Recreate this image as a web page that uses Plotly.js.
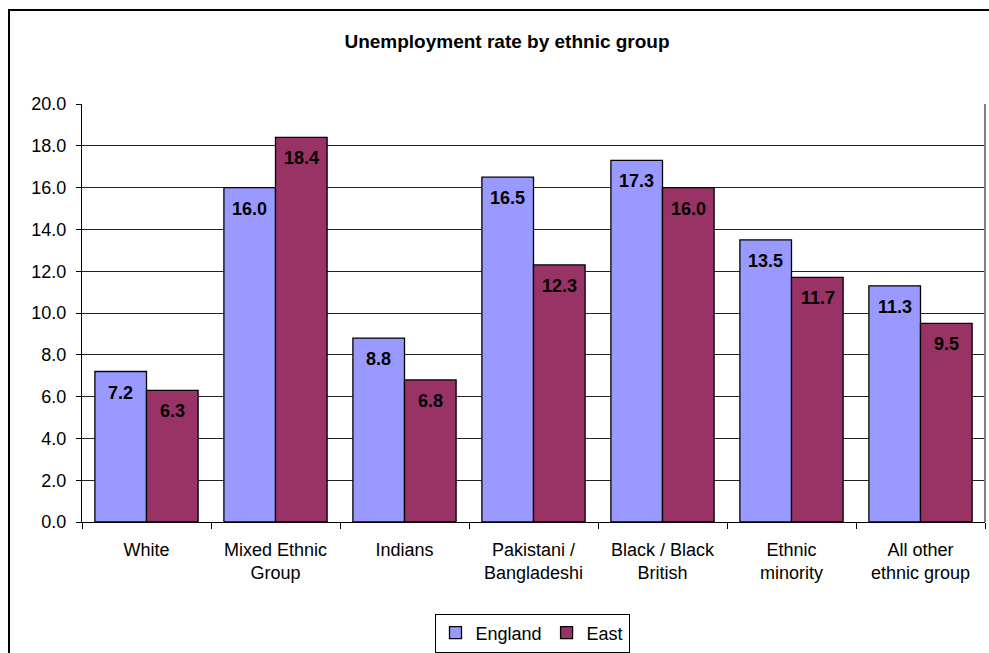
<!DOCTYPE html>
<html><head><meta charset="utf-8">
<script src="https://cdn.plot.ly/plotly-3.0.1.min.js"></script>
<style>
html,body{margin:0;padding:0;background:#fff;overflow:hidden;}
#wrap{position:relative;width:989px;height:653px;}
#chart{position:absolute;left:0;top:0;width:989px;height:653px;}
#frame{position:absolute;left:8px;top:9px;width:1100px;height:800px;border:2px solid #000;pointer-events:none;}
</style>
</head><body>
<div id="wrap"><div id="chart"></div><div id="frame"></div></div>
<script>
const categories = ["White", "Mixed Ethnic<br>Group", "Indians", "Pakistani /<br>Bangladeshi", "Black / Black<br>British", "Ethnic<br>minority", "All other<br>ethnic group"];
const england = [7.2, 16.0, 8.8, 16.5, 17.3, 13.5, 11.3];
const east = [6.3, 18.4, 6.8, 12.3, 16.0, 11.7, 9.5];
const seriesNames = ["England", "East"];
const yTicks = [0, 2, 4, 6, 8, 10, 12, 14, 16, 18, 20];

const font = "Liberation Sans, Arial, sans-serif";
const traces = [
  {type:'bar', name:seriesNames[0], x:categories, y:england,
   marker:{color:'#9999FF', line:{color:'#000', width:1.3}}},
  {type:'bar', name:seriesNames[1], x:categories, y:east,
   marker:{color:'#993366', line:{color:'#000', width:1.3}}}
];

const annotations = [];
[england, east].forEach((vals, si) => {
  vals.forEach((v, i) => {
    annotations.push({x:categories[i], y:v, xref:'x', yref:'y', text:v.toFixed(1),
      showarrow:false, xshift: si === 0 ? -26 : 26, yshift:-21,
      font:{family:font, size:18, color:'#000', weight:'bold'}});
  });
});

const layout = {
  width:989, height:653,
  margin:{l:82, r:4, t:104, b:131},
  paper_bgcolor:'#fff', plot_bgcolor:'#fff',
  font:{family:font, size:18, color:'#000'},
  title:{text:'<b>Unemployment rate by ethnic group</b>', x:507/989, xanchor:'center', y:1-41/653, yanchor:'middle',
    font:{family:font, size:19, color:'#000'}},
  barmode:'group', bargap:0.2, bargroupgap:0,
  showlegend:true,
  legend:{orientation:'h', x:532/989, xref:'container', xanchor:'center', y:1-633/653, yref:'container', yanchor:'middle',
    bordercolor:'#000', borderwidth:1, bgcolor:'#fff', font:{family:font, size:18, color:'#000'},
    itemwidth:30, tracegroupgap:0},
  xaxis:{type:'category', showline:true, linecolor:'#000', linewidth:1, ticks:'outside', ticklen:6,
    tickcolor:'#000', tickson:'boundaries', showgrid:false, ticklabelstandoff:11,
    tickfont:{family:font, size:18, color:'#000'}},
  yaxis:{range:[0,20], tickvals:yTicks, ticktext:yTicks.map(v=>v.toFixed(1)), showline:true, linecolor:'#000', linewidth:1,
    ticks:'outside', ticklen:5, tickcolor:'#000', showgrid:true, gridcolor:'#222', gridwidth:1, ticklabelstandoff:6,
    zeroline:false, tickfont:{family:font, size:18, color:'#000'}},
  shapes:[{type:'line', xref:'paper', yref:'paper', x0:1, x1:1, y0:0, y1:1, line:{color:'#808080', width:2}}],
  annotations:annotations
};
Plotly.newPlot('chart', traces, layout, {displayModeBar:false, staticPlot:true});
</script>
</body></html>
